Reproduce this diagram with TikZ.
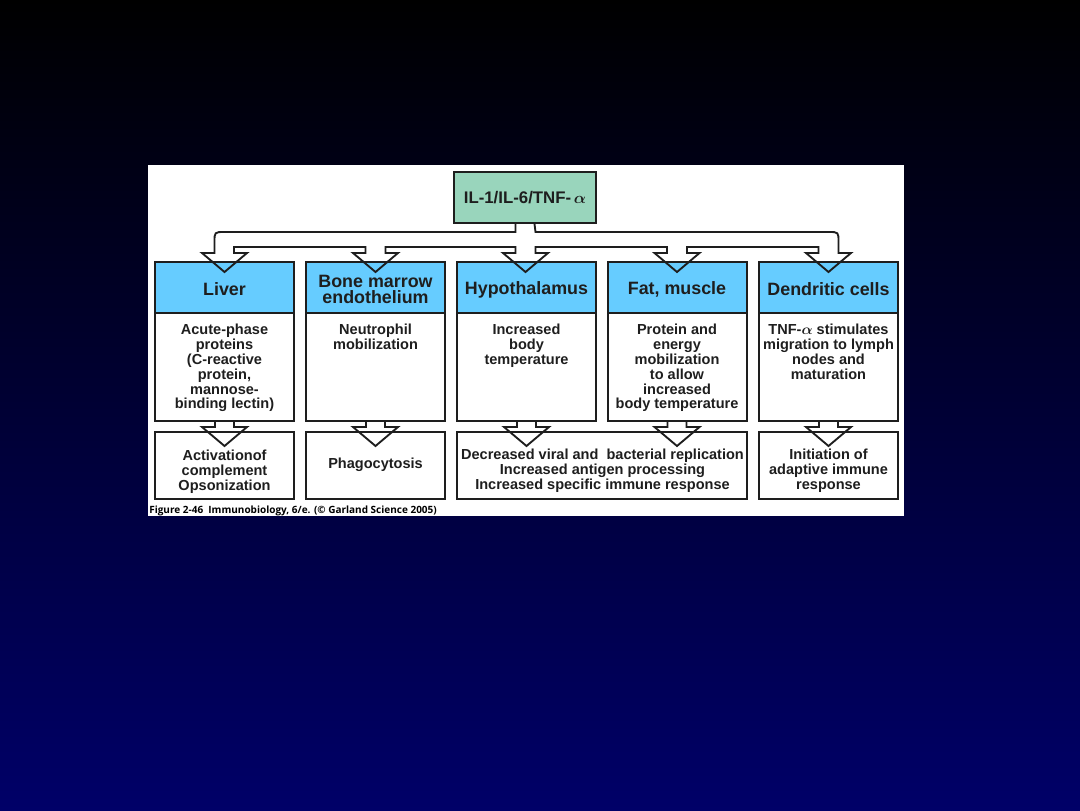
\documentclass[tikz,border=0pt]{standalone}
\usepackage{fontspec}
\usepackage{bm}
\setmainfont{Liberation Sans}
\newfontfamily\capfont{Open Sans}
\usetikzlibrary{calc}
\definecolor{hdrblue}{RGB}{102,204,255}
\definecolor{topgreen}{RGB}{153,213,188}
\definecolor{ink}{RGB}{30,30,30}
\definecolor{navy}{RGB}{0,0,104}
\begin{document}
\begin{tikzpicture}[x=0.75pt,y=-0.75pt,
  box/.style={draw=ink,line width=1.5pt,inner sep=0pt,minimum width=104.25pt,text=ink},
  hdr/.style={box,fill=hdrblue,minimum height=38.25pt},
  htxt/.style={font=\fontsize{13.4}{12}\selectfont\bfseries,align=center,inner sep=0pt,text=ink},
  bodybox/.style={box,fill=white,minimum height=81pt},
  lowbox/.style={box,fill=white,minimum height=50.25pt},
  txt/.style={font=\fontsize{10.9}{11.1}\selectfont\bfseries,align=center,inner sep=0pt,text=ink},
  flow/.style={draw=ink,line width=1.4pt,line join=miter},
]
\useasboundingbox (0,0) rectangle (1080,810);
\shade[top color=black,bottom color=navy] (0,0) rectangle (1080,810);
\fill[white] (148,165) rectangle (904,516);

% top box
\node[box,fill=topgreen,minimum width=106.5pt,minimum height=38.25pt,
      font=\fontsize{12.6}{14}\selectfont\bfseries] (top) at (525,197.5) {IL-1/IL-6/TNF-\,$\bm{\alpha}$};

% headers
\node[hdr] (h1) at (224.5,287.5) {};
\node[hdr] (h2) at (375.5,287.5) {};
\node[hdr] (h3) at (526.5,287.5) {};
\node[hdr] (h4) at (677,287.5) {};
\node[hdr] (h5) at (828.5,287.5) {};
\node[htxt] (ht1) at (224.5,289.5) {Liver};
\node[htxt] (ht2) at (375.5,289.5) {Bone marrow\\endothelium};
\node[htxt] (ht3) at (526.5,289.5) {Hypothalamus};
\node[htxt] (ht4) at (677,289.5) {Fat, muscle};
\node[htxt] (ht5) at (828.5,289.5) {Dendritic cells};

% bodies
\node[bodybox] (b1) at (224.5,367) {};
\node[bodybox] (b2) at (375.5,367) {};
\node[bodybox] (b3) at (526.5,367) {};
\node[bodybox] (b4) at (677,367) {};
\node[bodybox] (b5) at (828.5,367) {};

\node[txt,anchor=north] (t1) at (224.5,324) {Acute-phase\\proteins\\(C-reactive\\protein,\\mannose-\\binding lectin)};
\node[txt,anchor=north] (t2) at (375.5,324) {Neutrophil\\mobilization};
\node[txt,anchor=north] (t3) at (526.5,324) {Increased\\body\\temperature};
\node[txt,anchor=north] (t4) at (677,324) {Protein and\\energy\\mobilization\\to allow\\increased\\body temperature};
\node[txt,anchor=north] (t5) at (828.5,324) {TNF-$\bm{\alpha}$ stimulates\\migration to lymph\\nodes and\\maturation};

% lower boxes
\node[lowbox] (l1) at (224.5,465.5) {};
\node[lowbox] (l2) at (375.5,465.5) {};
\node[lowbox,minimum width=217.5pt] (l3) at (602,465.5) {};
\node[lowbox] (l5) at (828.5,465.5) {};

\node[txt] (u1) at (224.5,471.5) {Activationof\\complement\\Opsonization};
\node[txt] (u2) at (375.5,465) {Phagocytosis};
\node[txt] (u3) at (602.5,471) {Decreased viral and\ \ bacterial replication\\Increased antigen processing\\Increased specific immune response};
\node[txt] (u5) at (828.5,471) {Initiation of\\adaptive immune\\response};

% distribution band from the top box
\draw[flow] ($(top.south)+(-9.5,0)$) -- (515.5,232) -- (224.5,232) .. controls (214.5,232) .. (214.5,242)
  -- (214.5,253) -- (202,253) -- (224.5,272) -- (247,253) -- (234,253) -- (234,247)
  -- (365.5,247) -- (365.5,253) -- (353,253) -- (375.5,272) -- (398,253) -- (385.5,253) -- (385.5,247)
  -- (515.5,247) -- (515.5,253) -- (503,253) -- (525.5,272) -- (548,253) -- (535.5,253) -- (535.5,247)
  -- (667,247) -- (667,253) -- (654.5,253) -- (677,272) -- (699.5,253) -- (687,253) -- (687,247)
  -- (818.5,247) -- (818.5,253) -- (806,253) -- (828.5,272) -- (851,253) -- (838.5,253)
  -- (838.5,242) .. controls (838.5,232) .. (828.5,232) -- (535.5,232) -- ($(top.south)+(9.5,0)$);

% lower arrows
\foreach \b in {b1,b2,b3,b4,b5}{
  \draw[flow] ($(\b.south)+(-9.5,0)$) -- ++(0,5) -- ++(-13,0) -- ++(22.5,19) -- ++(22.5,-19) -- ++(-13,0) -- ($(\b.south)+(9.5,0)$);
}

\node[anchor=west,inner sep=0pt,text=black,font=\capfont\bfseries\fontsize{7.5}{8}\selectfont] (cap) at (149,510.5)
  {Figure 2-46\ \ Immunobiology, 6/e. (\textcopyright\ Garland Science 2005)};
\end{tikzpicture}
\end{document}
